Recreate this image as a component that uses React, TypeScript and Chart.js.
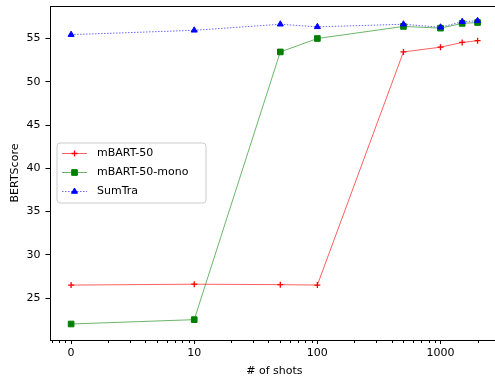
import React, { useEffect, useRef } from 'react';
import { Chart, registerables } from 'chart.js';

Chart.register(...registerables);

// ---- data ----
const shots = [0, 10, 50, 100, 500, 1000, 1500, 2000];
const mbart50 = [26.5, 26.6, 26.55, 26.5, 53.45, 54.0, 54.55, 54.75];
const mbart50mono = [22.0, 22.5, 53.45, 55.0, 56.4, 56.2, 56.75, 56.85];
const sumtra = [55.45, 55.95, 56.65, 56.35, 56.65, 56.3, 56.95, 57.05];
const seriesLabels = ['mBART-50', 'mBART-50-mono', 'SumTra'];
const xTickValues = [1, 10, 100, 1000];
const xTickLabels = ['0', '10', '100', '1000'];
const yTickValues = [25, 30, 35, 40, 45, 50, 55];
const xTitle = '# of shots';
const yTitle = 'BERTScore';

// the reference places "0 shots" at position 1 on its log axis
const xPos = (s: number) => (s === 0 ? 1 : s);

const xMinorTicks: number[] = [];
for (const dec of [0.1, 1, 10, 100, 1000]) {
  for (let k = 2; k <= 9; k++) xMinorTicks.push(k * dec);
}

const FONT = "'DejaVu Sans', sans-serif";

type Style = { color: string; line: string; dash: number[]; marker: string; r: number };
const styles: Style[] = [
  { color: '#ff0000', line: 'rgba(255,0,0,0.7)', dash: [], marker: 'cross', r: 3 },
  { color: '#008000', line: 'rgba(0,128,0,0.65)', dash: [], marker: 'rect', r: 4 },
  { color: '#0000ff', line: 'rgba(0,0,255,0.65)', dash: [1.5, 1.5], marker: 'triangle', r: 3.5 },
];

function drawMarker(ctx: CanvasRenderingContext2D, kind: string, x: number, y: number, r: number, color: string) {
  ctx.save();
  ctx.fillStyle = color;
  ctx.strokeStyle = color;
  ctx.setLineDash([]);
  if (kind === 'cross') {
    ctx.lineWidth = 1.3;
    ctx.beginPath();
    ctx.moveTo(x - r, y);
    ctx.lineTo(x + r, y);
    ctx.moveTo(x, y - r);
    ctx.lineTo(x, y + r);
    ctx.stroke();
  } else if (kind === 'rect') {
    const s = r * Math.SQRT1_2;
    ctx.lineWidth = 1;
    ctx.beginPath();
    ctx.rect(x - s, y - s, 2 * s, 2 * s);
    ctx.fill();
    ctx.stroke();
  } else {
    ctx.lineWidth = 1;
    ctx.beginPath();
    ctx.moveTo(x, y - r);
    ctx.lineTo(x + r * 0.866, y + r / 2);
    ctx.lineTo(x - r * 0.866, y + r / 2);
    ctx.closePath();
    ctx.fill();
    ctx.stroke();
  }
  ctx.restore();
}

const framePlugin = {
  id: 'frame',
  afterDraw(chart: any) {
    const { ctx, chartArea: a, scales } = chart;
    ctx.save();
    // spines
    ctx.strokeStyle = '#000';
    ctx.lineWidth = 1;
    const L = Math.floor(a.left) + 0.5;
    const T = Math.floor(a.top) + 0.5;
    const R = Math.floor(a.right) + 0.5;
    const B = Math.floor(a.bottom) + 0.5;
    ctx.strokeRect(L, T, R - L, B - T);
    // minor x ticks
    ctx.beginPath();
    for (const v of xMinorTicks) {
      const px = scales.x.getPixelForValue(v);
      if (px < a.left || px > a.right) continue;
      const x = Math.round(px) + 0.5;
      ctx.moveTo(x, B);
      ctx.lineTo(x, B + 2.5);
    }
    ctx.stroke();

    // legend
    const lx = 57, ly = 143, lw = 149, lh = 60, rad = 3;
    ctx.beginPath();
    ctx.moveTo(lx + rad, ly);
    ctx.arcTo(lx + lw, ly, lx + lw, ly + lh, rad);
    ctx.arcTo(lx + lw, ly + lh, lx, ly + lh, rad);
    ctx.arcTo(lx, ly + lh, lx, ly, rad);
    ctx.arcTo(lx, ly, lx + lw, ly, rad);
    ctx.closePath();
    ctx.fillStyle = 'rgba(255,255,255,0.8)';
    ctx.fill();
    ctx.strokeStyle = '#cccccc';
    ctx.lineWidth = 1;
    ctx.stroke();

    chart.data.datasets.forEach((ds: any, i: number) => {
      const st = styles[i];
      const y = ly + 10.5 + i * 19;
      ctx.beginPath();
      ctx.strokeStyle = st.line;
      ctx.lineWidth = 0.9;
      ctx.setLineDash(st.dash);
      ctx.moveTo(lx + 5, y);
      ctx.lineTo(lx + 30, y);
      ctx.stroke();
      ctx.setLineDash([]);
      drawMarker(ctx, st.marker, lx + 17.5, y, st.r, st.color);
      ctx.fillStyle = '#000';
      ctx.font = `11px ${FONT}`;
      ctx.textBaseline = 'middle';
      ctx.textAlign = 'left';
      ctx.fillText(ds.label, lx + 40, y);
    });
    ctx.restore();
  },
};

export default function App() {
  const ref = useRef<HTMLCanvasElement | null>(null);

  useEffect(() => {
    if (!ref.current) return;
    Chart.defaults.font.family = FONT;
    Chart.defaults.color = '#000';
    const series = [mbart50, mbart50mono, sumtra];
    const chart = new Chart(ref.current, {
      type: 'line',
      data: {
        datasets: series.map((vals, i) => ({
          label: seriesLabels[i],
          data: shots.map((s, j) => ({ x: xPos(s), y: vals[j] })),
          borderColor: styles[i].line,
          backgroundColor: styles[i].color,
          pointBorderColor: styles[i].color,
          pointBackgroundColor: styles[i].color,
          borderWidth: 0.9,
          borderDash: styles[i].dash,
          pointStyle: styles[i].marker as any,
          pointRadius: styles[i].r,
          pointBorderWidth: styles[i].marker === 'cross' ? 1.3 : 1,
          tension: 0,
          fill: false,
          order: 3 - i,
        })),
      },
      options: {
        responsive: false,
        animation: false,
        events: [],
        layout: { padding: { top: 6, right: 2, left: 0, bottom: 0 } },
        plugins: { legend: { display: false }, tooltip: { enabled: false } },
        scales: {
          x: {
            type: 'logarithmic',
            min: 0.674,
            max: 2969,
            afterBuildTicks: (s: any) => {
              s.ticks = xTickValues.map((v) => ({ value: v }));
            },
            afterFit: (s: any) => {
              s.height = 40;
              s.paddingLeft = 0;
              s.paddingRight = 0;
            },
            ticks: {
              autoSkip: false,
              maxRotation: 0,
              padding: 3,
              font: { size: 11 },
              color: '#000',
              callback: (_v: any, i: number) => xTickLabels[i],
            },
            grid: {
              display: true,
              drawOnChartArea: false,
              drawTicks: true,
              tickLength: 4,
              tickColor: '#000',
              tickWidth: 1,
            },
            border: { display: false },
            title: {
              display: true,
              text: xTitle,
              font: { size: 11 },
              color: '#000',
              padding: { top: 0, bottom: 2 },
            },
          },
          y: {
            type: 'linear',
            min: 20.15,
            max: 58.76,
            afterBuildTicks: (s: any) => {
              s.ticks = yTickValues.map((v) => ({ value: v }));
            },
            afterFit: (s: any) => {
              s.width = 50;
              s.paddingTop = 0;
              s.paddingBottom = 0;
            },
            ticks: {
              padding: 5,
              font: { size: 11 },
              color: '#000',
            },
            grid: {
              display: true,
              drawOnChartArea: false,
              drawTicks: true,
              tickLength: 4.5,
              tickColor: '#000',
              tickWidth: 1,
            },
            border: { display: false },
            title: {
              display: true,
              text: yTitle,
              font: { size: 11 },
              color: '#000',
              padding: { top: 9, bottom: 0 },
            },
          },
        },
      },
      plugins: [framePlugin],
    });
    return () => chart.destroy();
  }, []);

  return (
    <div
      style={{
        position: 'fixed',
        left: 0,
        top: 0,
        width: 495,
        height: 380,
        overflow: 'hidden',
        background: '#fff',
      }}
    >
      <canvas ref={ref} width={504} height={380} style={{ display: 'block' }} />
    </div>
  );
}
